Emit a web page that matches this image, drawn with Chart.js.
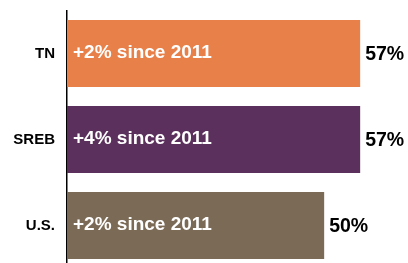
<!DOCTYPE html>
<html>
<head>
<meta charset="utf-8">
<script src="https://cdn.jsdelivr.net/npm/chart.js@4/dist/chart.umd.min.js"></script>
<style>
  html, body { margin: 0; padding: 0; background: #fff; overflow: hidden; }
  #wrap { width: 408px; height: 263px; overflow: hidden; }
</style>
</head>
<body>
<div id="wrap"><canvas id="barChart" width="408" height="270"></canvas></div>
<script>
const categories = ["TN", "SREB", "U.S."];
const values = [57, 57, 50];
const changeLabels = ["+2% since 2011", "+4% since 2011", "+2% since 2011"];
const barColors = ["#E8804A", "#5C305C", "#7B6A55"];

// text inside the bars and the value at each bar's end
const barText = {
    id: 'barText',
    afterDatasetsDraw(chart) {
        const ctx = chart.ctx;
        const bars = chart.getDatasetMeta(0).data;
        ctx.save();
        ctx.textBaseline = 'middle';
        bars.forEach((bar, i) => {
            ctx.fillStyle = '#fff';
            ctx.textAlign = 'left';
            ctx.font = 'bold 19px "Liberation Sans", Arial, sans-serif';
            ctx.fillText(changeLabels[i], bar.base + 6, bar.y - 1);

            ctx.fillStyle = '#000';
            ctx.font = 'bold 19.5px "Liberation Sans", Arial, sans-serif';
            ctx.fillText(values[i] + '%', bar.x + 5, bar.y + 1);
        });
        ctx.restore();
    }
};

const ctx = document.getElementById('barChart').getContext('2d');
const barChart = new Chart(ctx, {
    type: 'bar',
    data: {
        labels: categories,
        datasets: [{
            data: values,
            backgroundColor: barColors,
            categoryPercentage: 1,
            barPercentage: 0.78
        }]
    },
    options: {
        indexAxis: 'y',
        responsive: false,
        animation: false,
        layout: { padding: { top: 10.5, bottom: 1.5, left: 0, right: 0 } },
        plugins: {
            legend: { display: false },
            tooltip: { enabled: false }
        },
        scales: {
            x: {
                display: false,
                min: 0,
                max: 66.3
            },
            y: {
                afterFit(scale) {
                    scale.width = 67;
                    scale.paddingTop = 0;
                    scale.paddingBottom = 0;
                },
                grid: { display: false, drawTicks: false },
                border: { display: true, color: '#000', width: 1.5 },
                ticks: {
                    color: '#000',
                    padding: 12,
                    font: { family: '"Liberation Sans", Arial, sans-serif', size: 15, weight: 'bold' }
                }
            }
        }
    },
    plugins: [barText]
});
</script>
</body>
</html>
